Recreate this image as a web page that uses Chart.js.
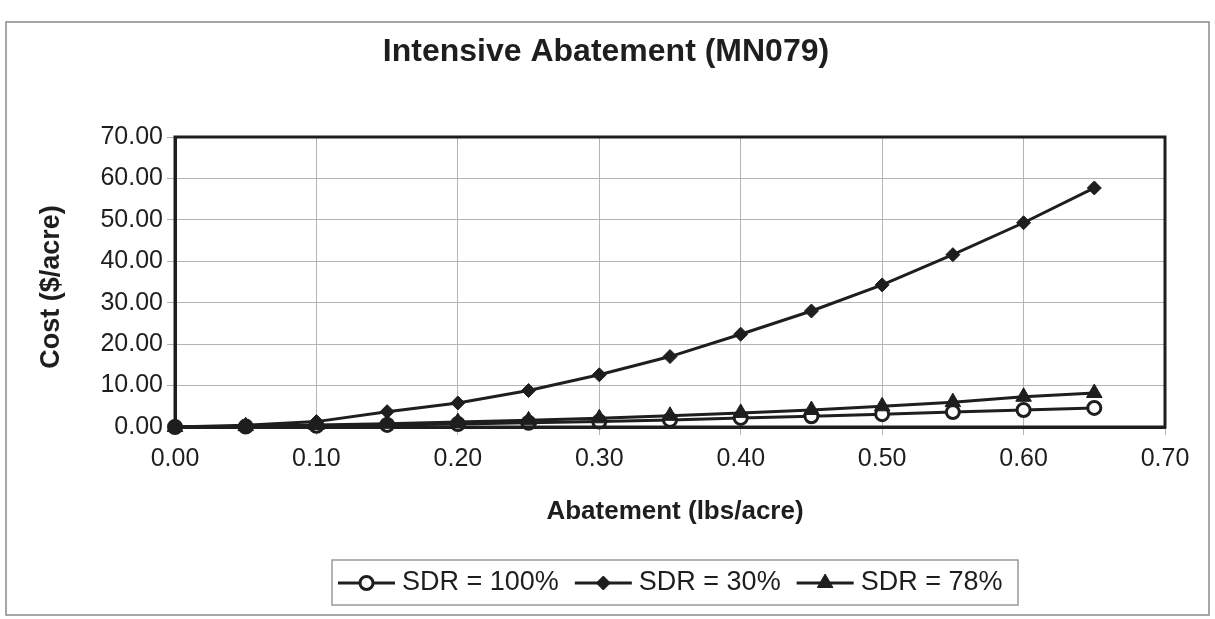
<!DOCTYPE html>
<html>
<head>
<meta charset="utf-8">
<title>Intensive Abatement (MN079)</title>
<script src="https://cdn.jsdelivr.net/npm/chart.js@4.4.1/dist/chart.umd.min.js"></script>
<style>
  html, body { margin: 0; padding: 0; background: #ffffff; }
  #wrap { width: 1215px; height: 619px; position: relative; }
</style>
</head>
<body>
<div id="wrap"><canvas id="chart" width="1215" height="619"></canvas></div>
<script>
// Abatement levels (lbs/acre) on the x axis
const abatement = [0.00, 0.05, 0.10, 0.15, 0.20, 0.25, 0.30, 0.35, 0.40, 0.45, 0.50, 0.55, 0.60, 0.65];

// Cost ($/acre) for each sediment delivery ratio
const costSdr100 = [0, 0.1, 0.3, 0.5, 0.7, 1.0, 1.3, 1.7, 2.2, 2.6, 3.1, 3.6, 4.1, 4.6];
const costSdr30  = [0, 0.4, 1.3, 3.7, 5.8, 8.8, 12.6, 17.0, 22.4, 28.0, 34.3, 41.6, 49.3, 57.7];
const costSdr78  = [0, 0.2, 0.5, 0.8, 1.2, 1.6, 2.1, 2.7, 3.4, 4.1, 5.0, 6.0, 7.3, 8.2];

const seriesNames = ['SDR = 100%', 'SDR = 30%', 'SDR = 78%'];
const chartTitle = 'Intensive Abatement (MN079)';
const xAxisTitle = 'Abatement (lbs/acre)';
const yAxisTitle = 'Cost ($/acre)';

// Axis ranges and tick spacing
const xTicks = { min: 0, max: 0.7, step: 0.1 };
const yTicks = { min: 0, max: 70, step: 10 };

const INK = '#1e1e1e';
const FONT = '"Liberation Sans", Arial, Helvetica, sans-serif';
Chart.defaults.font.family = FONT;
Chart.defaults.color = INK;

const toPoints = (ys) => abatement.map((x, i) => ({ x: x, y: ys[i] }));

// Frame, titles and a line-with-marker legend drawn around the plot
const decorations = {
  id: 'decorations',
  beforeDraw(chart) {
    const ctx = chart.ctx;
    ctx.save();
    ctx.fillStyle = '#ffffff';
    ctx.fillRect(0, 0, chart.width, chart.height);
    ctx.strokeStyle = '#8a8a8a';
    ctx.lineWidth = 1.5;
    ctx.strokeRect(6, 22, 1203, 593);
    ctx.restore();
  },
  afterDraw(chart) {
    const ctx = chart.ctx;
    const area = chart.chartArea;
    ctx.save();

    // heavy plot border
    ctx.strokeStyle = INK;
    ctx.lineWidth = 3;
    ctx.strokeRect(area.left, area.top, area.right - area.left, area.bottom - area.top);

    // chart title
    ctx.fillStyle = INK;
    ctx.textAlign = 'center';
    ctx.textBaseline = 'middle';
    ctx.font = 'bold 32px ' + FONT;
    ctx.fillText(chartTitle, 606, 52);

    // axis titles
    ctx.font = 'bold 26px ' + FONT;
    ctx.fillText(xAxisTitle, 675, 512);
    ctx.save();
    ctx.translate(52, 287);
    ctx.rotate(-Math.PI / 2);
    ctx.font = 'bold 27px ' + FONT;
    ctx.fillText(yAxisTitle, 0, 0);
    ctx.restore();

    // legend box
    ctx.strokeStyle = '#9a9a9a';
    ctx.lineWidth = 1.5;
    ctx.strokeRect(332, 560, 686, 45);

    // legend entries
    const cy = 583;
    let x = 338;
    ctx.font = '27px ' + FONT;
    ctx.textAlign = 'left';
    chart.data.datasets.forEach((ds) => {
      const lineLen = 57;
      ctx.strokeStyle = ds.borderColor;
      ctx.lineWidth = 3;
      ctx.beginPath();
      ctx.moveTo(x, cy);
      ctx.lineTo(x + lineLen, cy);
      ctx.stroke();
      ctx.fillStyle = ds.pointBackgroundColor;
      ctx.strokeStyle = ds.pointBorderColor;
      ctx.lineWidth = ds.pointBorderWidth;
      Chart.helpers.drawPoint(ctx, {
        pointStyle: ds.pointStyle,
        radius: ds.pointRadius,
        borderWidth: ds.pointBorderWidth,
        rotation: 0
      }, x + lineLen / 2, cy);
      const tx = x + lineLen + 7;
      ctx.fillStyle = INK;
      ctx.fillText(ds.label, tx, cy);
      x = tx + ctx.measureText(ds.label).width + 16;
    });
    ctx.restore();
  }
};

const commonLine = {
  borderColor: INK,
  borderWidth: 3,
  tension: 0,
  fill: false,
  clip: false,
  pointBorderColor: INK,
  pointHoverRadius: 0
};

new Chart(document.getElementById('chart'), {
  type: 'line',
  data: {
    datasets: [
      Object.assign({}, commonLine, {
        label: seriesNames[0],
        data: toPoints(costSdr100),
        order: 3,
        pointStyle: 'circle',
        pointRadius: 6.5,
        pointBackgroundColor: '#ffffff',
        pointBorderWidth: 3
      }),
      Object.assign({}, commonLine, {
        label: seriesNames[1],
        data: toPoints(costSdr30),
        order: 2,
        pointStyle: 'rectRot',
        pointRadius: 7,
        pointBackgroundColor: INK,
        pointBorderWidth: 1
      }),
      Object.assign({}, commonLine, {
        label: seriesNames[2],
        data: toPoints(costSdr78),
        order: 1,
        pointStyle: 'triangle',
        pointRadius: 9,
        pointBackgroundColor: INK,
        pointBorderWidth: 1
      })
    ]
  },
  options: {
    responsive: false,
    animation: false,
    devicePixelRatio: 1,
    layout: { padding: { left: 20, top: 137, right: 50, bottom: 0 } },
    plugins: {
      legend: { display: false },
      title: { display: false },
      tooltip: { enabled: false }
    },
    scales: {
      x: {
        type: 'linear',
        min: xTicks.min,
        max: xTicks.max,
        ticks: {
          stepSize: xTicks.step,
          padding: 9,
          color: INK,
          font: { size: 25 },
          maxRotation: 0,
          callback: (v) => Number(v).toFixed(2)
        },
        grid: { color: '#b4b4b4', lineWidth: 1, tickLength: 8, tickColor: '#b4b4b4' },
        border: { display: true, color: INK, width: 3 },
        afterFit: (scale) => { scale.height = 192; }
      },
      y: {
        min: yTicks.min,
        max: yTicks.max,
        ticks: {
          stepSize: yTicks.step,
          padding: 4,
          color: INK,
          font: { size: 25 },
          callback: (v) => Number(v).toFixed(2)
        },
        grid: { color: '#b4b4b4', lineWidth: 1, tickLength: 8, tickColor: '#b4b4b4' },
        border: { display: true, color: INK, width: 3 },
        afterFit: (scale) => { scale.width = 155; }
      }
    }
  },
  plugins: [decorations]
});
</script>
</body>
</html>
